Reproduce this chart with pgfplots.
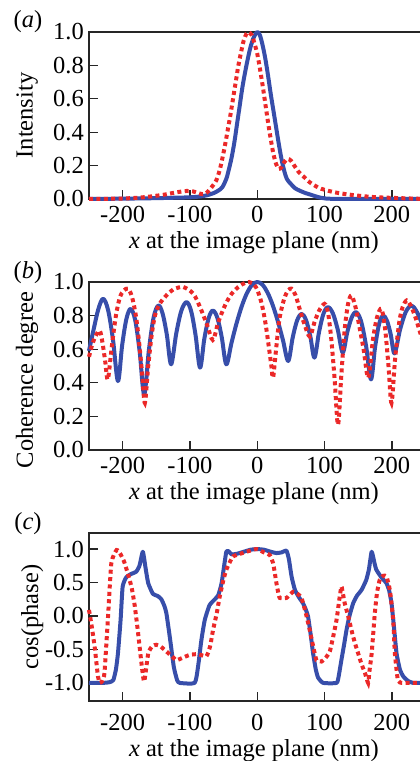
\documentclass[border=0pt]{standalone}
\usepackage{fontspec}
\setmainfont{Liberation Serif}
\usepackage{pgfplots}
\pgfplotsset{compat=1.18}
\definecolor{cblue}{RGB}{55,78,170}
\definecolor{cred}{RGB}{235,40,40}
\pgfplotsset{
 mystyle/.style={
  scale only axis, width=336.5bp, xmin=-250, xmax=250,
  axis line style={line width=1.3bp, black!85},
  every tick/.style={line width=1.3bp, black!85},
  major tick length=9bp,
  tick align=inside,
  xtick pos=bottom, ytick pos=left,
  xtick={-200,-100,0,100,200},
  xticklabels={-200,-100,0,100,200},
  xticklabel style={anchor=center, yshift=-15bp},
  yticklabel style={anchor=east, inner sep=0pt, xshift=-5bp},
  xlabel={\textit{x} at the image plane (nm)},
  xlabel style={at={(axis description cs:0.49,0)}, anchor=center, yshift=-44bp},
  ylabel style={anchor=center},
  clip=false,
 },
 blue line/.style={cblue, line width=4bp, smooth, tension=0.55, line join=round},
 red line/.style={cred, line width=4bp, dash pattern=on 4bp off 3.4bp, smooth, tension=0.5},
}
\begin{document}
{\fontsize{24.5bp}{28bp}\selectfont
\begin{tikzpicture}
\useasboundingbox (0,0) rectangle (420bp,761bp);
\clip (0,0) rectangle (420bp,761bp);
% ---------------- (a)
\begin{axis}[mystyle, at={(89bp,562bp)}, anchor=south west, height=167bp,
  ymin=0, ymax=1, ytick={0,0.2,0.4,0.6,0.8,1.0},
  yticklabels={0.0,0.2,0.4,0.6,0.8,1.0},
  ylabel={Intensity}, ylabel style={at={(axis description cs:-0.184,0.5)}}]
\addplot[blue line] coordinates {
(-250,0)(-200,0.002)(-150,0.005)(-120,0.008)(-100,0.01)(-85,0.015)(-75,0.022)(-65,0.035)(-58,0.05)(-52,0.07)(-46,0.12)(-42,0.18)(-38,0.25)(-34,0.34)(-30,0.45)(-26,0.56)(-22,0.67)(-18,0.76)(-14,0.84)(-10,0.91)(-5,0.97)(0,1.0)(4,0.98)(8,0.92)(12,0.84)(16,0.74)(20,0.63)(24,0.53)(28,0.43)(32,0.33)(36,0.24)(40,0.17)(44,0.12)(50,0.09)(56,0.065)(63,0.05)(72,0.035)(80,0.025)(90,0.012)(100,0.004)(120,0.001)(250,0)
};
\addplot[red line] coordinates {
(-250,0)(-200,0.003)(-170,0.01)(-140,0.025)(-120,0.04)(-105,0.048)(-95,0.045)(-85,0.032)(-78,0.03)(-72,0.05)(-66,0.08)(-61,0.11)(-56,0.17)(-52,0.24)(-48,0.32)(-44,0.41)(-40,0.5)(-36,0.6)(-32,0.7)(-28,0.8)(-24,0.88)(-20,0.95)(-16,0.99)(-13,1.0)(-8,0.98)(-4,0.93)(0,0.87)(4,0.78)(8,0.68)(12,0.57)(16,0.46)(20,0.36)(24,0.27)(28,0.21)(32,0.18)(36,0.19)(40,0.22)(45,0.24)(50,0.23)(55,0.2)(62,0.16)(70,0.13)(78,0.1)(90,0.07)(100,0.055)(115,0.04)(130,0.03)(150,0.02)(180,0.01)(250,0)
};
\end{axis}
% ---------------- (b)
\begin{axis}[mystyle, at={(89bp,311bp)}, anchor=south west, height=168bp,
  ymin=0, ymax=1, ytick={0,0.2,0.4,0.6,0.8,1.0},
  yticklabels={0.0,0.2,0.4,0.6,0.8,1.0},
  ylabel={Coherence degree}, ylabel style={at={(axis description cs:-0.184,0.417)}}]
\addplot[blue line] coordinates {
(-250,0.59)(-243,0.72)(-236,0.84)(-229,0.90)(-221.7,0.834)(-214.3,0.655)(-207,0.41)(-200.7,0.625)(-194.3,0.782)(-188,0.84)(-181.3,0.772)(-174.7,0.585)(-168,0.33)(-161,0.595)(-154,0.789)(-147,0.86)(-140.7,0.813)(-134.3,0.685)(-128,0.51)(-120.3,0.695)(-112.7,0.83)(-105,0.88)(-98.3,0.828)(-91.7,0.685)(-85,0.49)(-78.7,0.66)(-72.3,0.784)(-66,0.83)(-59.3,0.787)(-52.7,0.67)(-46,0.51)(-38.3,0.637)(-30.7,0.755)(-23,0.856)(-15.3,0.934)(-7.7,0.983)(0,1.0)(7.7,0.984)(15.3,0.937)(23,0.862)(30.7,0.765)(38.3,0.652)(46,0.53)(52.7,0.67)(59.3,0.772)(66,0.81)(72.3,0.775)(78.7,0.68)(85,0.55)(91.7,0.70)(98.3,0.81)(105,0.85)(112.3,0.814)(119.7,0.715)(127,0.58)(133.7,0.70)(140.3,0.788)(147,0.82)(154.3,0.766)(161.7,0.62)(169,0.42)(175,0.61)(181,0.749)(187,0.80)(192.7,0.77)(198.3,0.688)(204,0.575)(212.3,0.718)(220.7,0.822)(229,0.86)(236,0.83)(243,0.77)(250,0.69)
};
\addplot[red line] coordinates {
(-250,0.555)(-245,0.63)(-240,0.68)(-234,0.71)(-230,0.64)(-226,0.53)(-222,0.42)(-216,0.62)(-210,0.80)(-204,0.91)(-198,0.95)(-192,0.96)(-186,0.91)(-180,0.79)(-175,0.62)(-171,0.45)(-167,0.28)(-162,0.50)(-157,0.68)(-152,0.80)(-145,0.87)(-135,0.92)(-125,0.955)(-110,0.97)(-95,0.93)(-85,0.85)(-75,0.75)(-66,0.655)(-58,0.76)(-48,0.86)(-38,0.93)(-25,0.98)(-12,1.0)(-2,0.97)(6,0.88)(12,0.76)(17,0.62)(21,0.5)(23.5,0.43)(28,0.6)(33,0.78)(40,0.9)(46,0.95)(51,0.96)(57,0.92)(63,0.84)(70,0.75)(78,0.675)(85,0.76)(92,0.83)(100,0.87)(105,0.82)(110,0.66)(115,0.42)(120,0.15)(125,0.45)(130,0.72)(135,0.87)(140,0.92)(146,0.85)(152,0.73)(158,0.6)(165,0.43)(172,0.66)(178,0.79)(184.6,0.84)(190,0.72)(195,0.5)(199.5,0.28)(205,0.55)(211,0.76)(216,0.85)(222,0.89)(228,0.86)(235,0.79)(242,0.70)(250,0.6)
};
\end{axis}
% ---------------- (c)
\begin{axis}[mystyle, at={(89bp,60bp)}, anchor=south west, height=168bp,
  ymin=-1.27, ymax=1.24, ytick={-1,-0.5,0,0.5,1},
  yticklabels={-1.0,-0.5,0.0,0.5,1.0},
  xticklabel style={yshift=-6bp},
  xlabel style={yshift=-6bp},
  ylabel={cos(phase)}, ylabel style={at={(axis description cs:-0.169,0.5)}}]
\addplot[blue line, tension=0.3] coordinates {
(-250,-1.0)(-230,-1.0)(-220,-0.99)(-214,-0.96)(-210,-0.8)(-207,-0.56)(-203,-0.05)(-200,0.44)(-194.5,0.58)(-187,0.63)(-180,0.66)(-175,0.75)(-170,0.96)(-166,0.72)(-162,0.49)(-155,0.33)(-148,0.3)(-142.5,0.25)(-138,0.15)(-135,0.04)(-130,-0.31)(-124,-0.76)(-119,-0.96)(-115,-1.0)(-93,-1.0)(-88,-0.76)(-83,-0.36)(-78,-0.06)(-71,0.16)(-63,0.25)(-58,0.31)(-53,0.49)(-46,0.96)(-42,0.96)(-38,0.92)(-30,0.93)(-20,0.96)(-10,0.99)(0,1.0)(10,0.99)(20,0.96)(28.5,0.94)(36,0.95)(43.4,0.975)(47,0.85)(51,0.59)(56,0.39)(62,0.28)(68,0.19)(72,0.1)(75.5,-0.01)(79,-0.25)(83,-0.56)(87,-0.8)(90.4,-0.92)(98,-1.0)(117.8,-1.0)(121,-0.9)(125,-0.66)(129,-0.43)(132.6,-0.21)(137,0.0)(142.5,0.19)(148,0.3)(155,0.39)(162,0.54)(166,0.7)(170,0.96)(174,0.8)(177,0.69)(185,0.57)(192,0.49)(196,0.38)(199.5,0.19)(203,-0.15)(207,-0.56)(212,-0.8)(216.8,-0.9)(224,-0.97)(231.7,-1.0)(250,-1.0)
};
\addplot[red line, tension=0.3] coordinates {
(-250,0.09)(-246,-0.15)(-241.6,-0.46)(-236.7,-0.9)(-234,-1.0)(-230,-0.97)(-227,-0.85)(-222,-0.06)(-216.8,0.79)(-209,0.985)(-203,0.92)(-197,0.79)(-187,0.44)(-182,0.15)(-177,-0.26)(-172,-0.71)(-168,-0.98)(-162,-0.56)(-156,-0.45)(-150,-0.43)(-143,-0.46)(-135,-0.53)(-127,-0.6)(-120,-0.66)(-110,-0.62)(-100,-0.58)(-88,-0.57)(-75.5,-0.6)(-70,-0.45)(-65.7,-0.21)(-60,0.05)(-55.8,0.29)(-50,0.55)(-46,0.69)(-41,0.8)(-36,0.89)(-25,0.93)(-16,0.96)(-1,1.0)(10,0.95)(18.6,0.91)(23.5,0.79)(26,0.65)(28.5,0.49)(31,0.36)(33.5,0.27)(43.4,0.27)(53,0.36)(60,0.33)(65.7,0.27)(72,0.05)(78,-0.21)(83,-0.45)(88,-0.66)(95.5,-0.68)(102,-0.62)(107.8,-0.53)(113,-0.3)(117.8,-0.06)(122,0.25)(125,0.44)(127,0.35)(130,0.19)(135,0.0)(140,-0.21)(145,-0.4)(150,-0.56)(155,-0.72)(160,-0.85)(164.8,-1.0)(167,-0.8)(170,-0.56)(174.7,0.04)(178,0.35)(182,0.54)(187,0.6)(192,0.59)(197,0.39)(202,-0.06)(204.5,-0.56)(209,-0.96)(215,-1.0)(222,-1.0)(235,-1.0)(250,-1.0)
};
\end{axis}
\node at (28bp,739bp) {(\textit{a})};
\node at (28bp,488bp) {(\textit{b})};
\node at (28bp,237bp) {(\textit{c})};
\end{tikzpicture}}
\end{document}
